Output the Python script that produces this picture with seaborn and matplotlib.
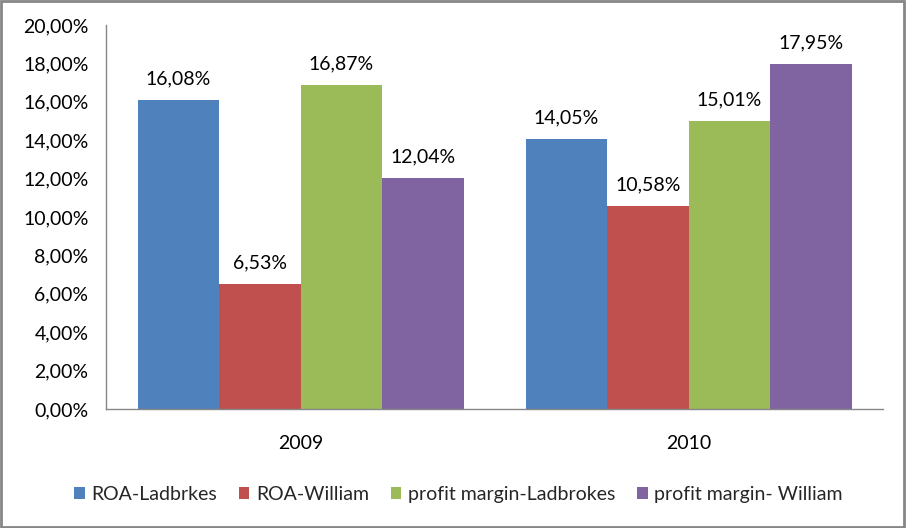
import matplotlib
matplotlib.use("Agg")
import matplotlib.pyplot as plt
import seaborn as sns
import pandas as pd
from matplotlib.patches import Rectangle

# data (percent)
years = ["2009", "2010"]
series = ["ROA-Ladbrkes", "ROA-William", "profit margin-Ladbrokes", "profit margin- William"]
roa_ladbrokes = [16.08, 14.05]
roa_william = [6.53, 10.58]
pm_ladbrokes = [16.87, 15.01]
pm_william = [12.04, 17.95]
colors = ["#4F81BD", "#C0504D", "#9BBB59", "#8064A2"]

rows = []
for name, vals in zip(series, [roa_ladbrokes, roa_william, pm_ladbrokes, pm_william]):
    for yr, v in zip(years, vals):
        rows.append({"year": yr, "series": name, "value": v})
df = pd.DataFrame(rows)

sns.set_theme(style="white")
plt.rcParams['font.family'] = ['Lato', 'DejaVu Sans']

fig = plt.figure(figsize=(9.06, 5.28), dpi=100)
ax = fig.add_axes([0.1175, 0.2254, 0.857, 0.7273])

sns.barplot(data=df, x="year", y="value", hue="series", hue_order=series,
            order=years, palette=colors, width=0.84, saturation=1,
            errorbar=None, ax=ax, legend=True, linewidth=0)

def pct(v):
    return "{:.2f}%".format(v).replace(".", ",")

for cont in ax.containers:
    ax.bar_label(cont, labels=[pct(v) for v in cont.datavalues],
                 padding=9, fontsize=14, color="black")

ax.set_ylim(0, 20)
ax.set_xlim(-0.5, 1.5)
ax.set_yticks(range(0, 21, 2))
ax.yaxis.set_major_formatter(plt.FuncFormatter(lambda x, loc: pct(x)))
ax.tick_params(axis="y", labelsize=14, pad=13, length=0, colors="black")
ax.tick_params(axis="x", labelsize=14, pad=19, length=0, colors="black")
ax.set_xlabel("")
ax.set_ylabel("")

for s in ["top", "right"]:
    ax.spines[s].set_visible(False)
for s in ["left", "bottom"]:
    ax.spines[s].set_color("#868686")
    ax.spines[s].set_linewidth(1.0)

handles, labels = ax.get_legend_handles_labels()
ax.get_legend().remove()
fig.legend(handles, labels, loc="center", bbox_to_anchor=(0.506, 0.064), ncol=4,
           frameon=False, fontsize=14, handlelength=0.55, handleheight=0.55,
           handletextpad=0.35, columnspacing=1.1)

# outer chart border
fig.patches.append(Rectangle((0.001, 0.002), 0.997, 0.996, transform=fig.transFigure,
                             fill=False, edgecolor="#868686", linewidth=2))

fig.savefig("out.png", dpi=100)
